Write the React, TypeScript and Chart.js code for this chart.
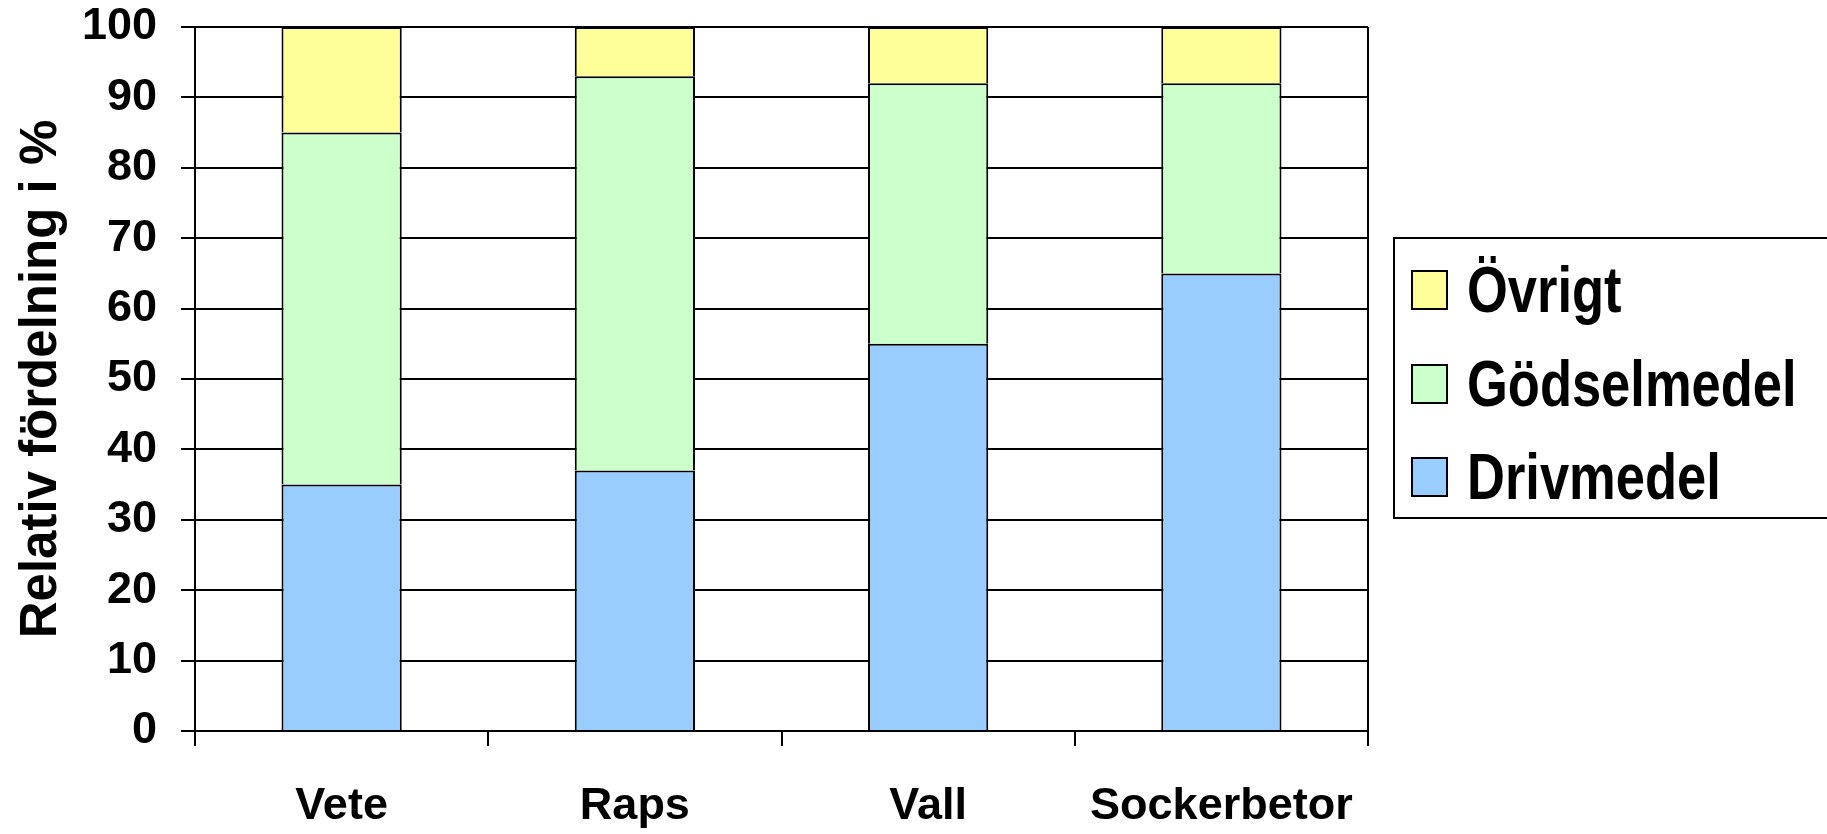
import React, { useEffect, useRef } from "react";
import { Chart, registerables } from "chart.js";

Chart.register(...registerables);

// Crops on the horizontal axis
const categories = ["Vete", "Raps", "Vall", "Sockerbetor"];

// Relative share of energy use per crop, in percent (stacked bottom to top)
const drivmedel = [35, 37, 55, 65];
const godselmedel = [50, 56, 37, 27];
const ovrigt = [15, 7, 8, 8];

const seriesNames = ["Drivmedel", "Gödselmedel", "Övrigt"];
const seriesColors = ["#99CCFF", "#CCFFCC", "#FFFF99"];

// Value axis ticks
const yTicks = [0, 10, 20, 30, 40, 50, 60, 70, 80, 90, 100];
const yTitle = "Relativ fördelning i %";

const W = 1827;
const H = 834;

const FONT = '"Liberation Sans", Arial, Helvetica, sans-serif';

// Closes the plot frame on the right-hand side
const plotFrame = {
  id: "plotFrame",
  afterDatasetsDraw(chart: any) {
    const { ctx, chartArea } = chart;
    ctx.save();
    ctx.strokeStyle = "#000";
    ctx.lineWidth = 2;
    ctx.beginPath();
    ctx.moveTo(chartArea.right, chartArea.top);
    ctx.lineTo(chartArea.right, chartArea.bottom);
    ctx.stroke();
    ctx.restore();
  },
};

export default function App() {
  const canvasRef = useRef<HTMLCanvasElement | null>(null);

  useEffect(() => {
    document.body.style.margin = "0";
    const canvas = canvasRef.current;
    if (!canvas) return;

    const values = [drivmedel, godselmedel, ovrigt];
    const chart = new Chart(canvas, {
      type: "bar",
      data: {
        labels: categories,
        datasets: values.map((data, i) => ({
          label: seriesNames[i],
          data,
          backgroundColor: seriesColors[i],
          borderColor: "#000",
          borderWidth: 2,
          barPercentage: 0.41,
          categoryPercentage: 1,
        })),
      },
      options: {
        responsive: false,
        animation: false,
        devicePixelRatio: 1,
        layout: {
          autoPadding: false,
          padding: { top: 27, right: 459, bottom: 0, left: 0 },
        },
        plugins: {
          legend: { display: false },
          tooltip: { enabled: false },
        },
        scales: {
          x: {
            stacked: true,
            afterFit: (scale: any) => {
              scale.height = 103;
            },
            grid: {
              offset: true,
              drawOnChartArea: false,
              drawTicks: true,
              tickLength: 15,
              color: "#000",
              lineWidth: 2,
            },
            border: { color: "#000", width: 2 },
            ticks: {
              color: "#000",
              padding: 34,
              autoSkip: false,
              maxRotation: 0,
              minRotation: 0,
              font: { family: FONT, size: 45, weight: "bold", lineHeight: 1.2 },
            },
          },
          y: {
            stacked: true,
            min: 0,
            max: 100,
            afterFit: (scale: any) => {
              scale.width = 195;
              scale.paddingTop = 0;
              scale.paddingBottom = 0;
            },
            afterBuildTicks: (scale: any) => {
              scale.ticks = yTicks.map((v) => ({ value: v }));
            },
            grid: {
              color: "#000",
              lineWidth: 2,
              drawTicks: true,
              tickLength: 14,
            },
            border: { color: "#000", width: 2 },
            ticks: {
              color: "#000",
              padding: 24,
              autoSkip: false,
              font: { family: FONT, size: 45, weight: "bold", lineHeight: 1 },
            },
            title: {
              display: true,
              text: yTitle,
              color: "#000",
              padding: { top: 11, bottom: 0 },
              font: { family: FONT, size: 51, weight: "bold", lineHeight: 1.2 },
            },
          },
        },
      },
      plugins: [plotFrame],
    });

    return () => chart.destroy();
  }, []);

  // Legend lists the series top-down in stacking order
  const legendOrder = [2, 1, 0];

  return (
    <div
      style={{
        position: "relative",
        width: W,
        height: H,
        overflow: "hidden",
        background: "#fff",
      }}
    >
      <canvas ref={canvasRef} width={W} height={H} style={{ display: "block" }} />
      <div
        style={{
          position: "absolute",
          left: 1393,
          top: 237,
          width: 500,
          height: 282,
          boxSizing: "border-box",
          border: "2px solid #000",
          background: "#fff",
        }}
      >
        {legendOrder.map((idx, row) => (
          <div
            key={seriesNames[idx]}
            style={{
              position: "absolute",
              left: 16,
              top: 31 + row * 93.5,
              height: 40,
              display: "flex",
              alignItems: "center",
              whiteSpace: "nowrap",
            }}
          >
            <div
              style={{
                width: 37,
                height: 40,
                boxSizing: "border-box",
                border: "2px solid #000",
                background: seriesColors[idx],
                flex: "none",
              }}
            />
            <span
              style={{
                marginLeft: 19,
                fontFamily: FONT,
                fontWeight: "bold",
                fontSize: 64,
                lineHeight: "64px",
                color: "#000",
                display: "inline-block",
                transform: "scaleX(0.82)",
                transformOrigin: "left center",
              }}
            >
              {seriesNames[idx]}
            </span>
          </div>
        ))}
      </div>
    </div>
  );
}
